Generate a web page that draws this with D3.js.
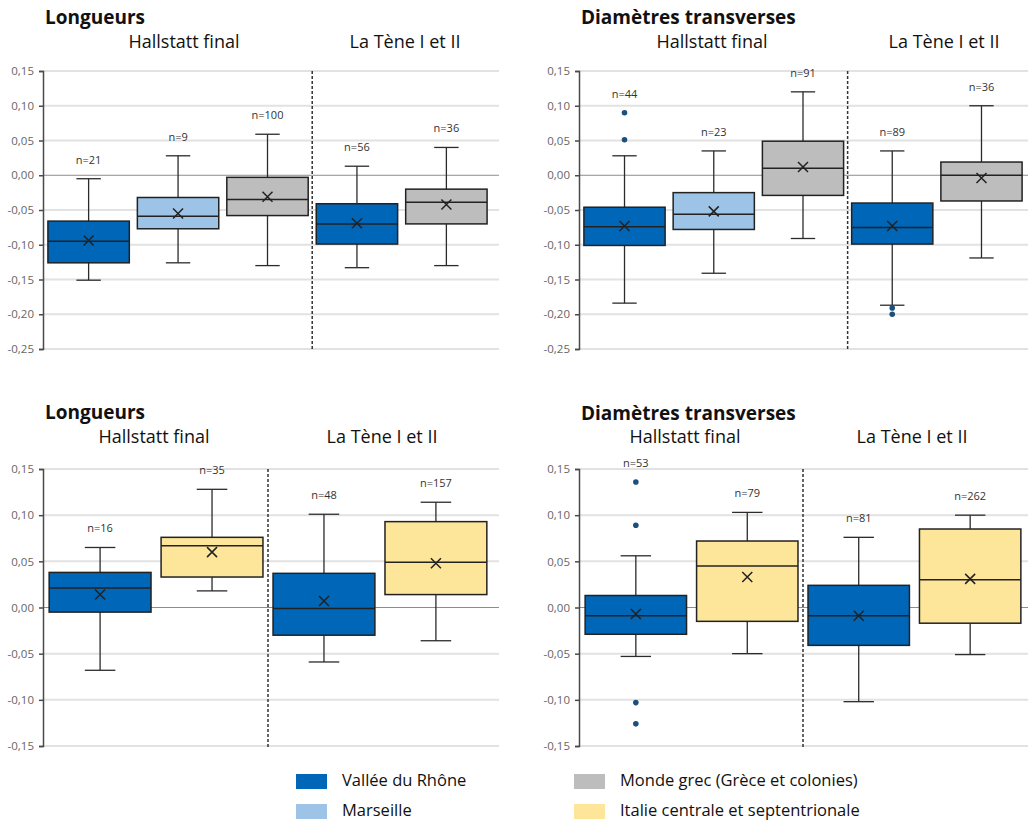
<!DOCTYPE html>
<html>
<head>
<meta charset="utf-8">
<script src="https://cdn.jsdelivr.net/npm/d3@7"></script>
<style>
  body { margin: 0; background: #fff; }
  svg { display: block; font-family: "Open Sans", "Noto Sans", sans-serif; }
</style>
</head>
<body>
<svg id="chart" width="1028" height="823"></svg>
<script>
// regions (legend order) and their fills
const regions = ["Vallée du Rhône", "Marseille", "Monde grec (Grèce et colonies)", "Italie centrale et septentrionale"];
const regionColors = ["#0066b8", "#9dc3e6", "#bdbdbd", "#fde59a"];
const periods = ["Hallstatt final", "La Tène I et II"];

// box stats: [low whisker, Q1, median, Q3, high whisker, mean]
// top left: Longueurs
const longTopRegion = [0, 1, 2, 0, 2];
const longTopPeriod = [0, 0, 0, 1, 1];
const longTopN = [21, 9, 100, 56, 36];
const longTopStats = [
  [-0.151, -0.126, -0.095, -0.066, -0.005, -0.094],
  [-0.126, -0.077, -0.059, -0.032, 0.028, -0.055],
  [-0.130, -0.058, -0.035, -0.003, 0.059, -0.031],
  [-0.133, -0.099, -0.070, -0.041, 0.013, -0.069],
  [-0.130, -0.070, -0.039, -0.020, 0.040, -0.042]
];
const longTopOutliers = [[], [], [], [], []];

// top right: Diamètres transverses
const diamTopRegion = [0, 1, 2, 0, 2];
const diamTopPeriod = [0, 0, 0, 1, 1];
const diamTopN = [44, 23, 91, 89, 36];
const diamTopStats = [
  [-0.184, -0.101, -0.074, -0.046, 0.028, -0.073],
  [-0.141, -0.078, -0.056, -0.025, 0.035, -0.052],
  [-0.091, -0.029, 0.010, 0.049, 0.120, 0.012],
  [-0.187, -0.099, -0.075, -0.040, 0.035, -0.073],
  [-0.119, -0.037, 0.000, 0.019, 0.100, -0.004]
];
const diamTopOutliers = [[0.090, 0.051], [], [], [-0.191, -0.200], []];

// bottom left: Longueurs
const longBotRegion = [0, 3, 0, 3];
const longBotPeriod = [0, 0, 1, 1];
const longBotN = [16, 35, 48, 157];
const longBotStats = [
  [-0.068, -0.005, 0.021, 0.038, 0.065, 0.014],
  [0.018, 0.033, 0.067, 0.076, 0.128, 0.060],
  [-0.059, -0.030, -0.001, 0.037, 0.101, 0.007],
  [-0.036, 0.014, 0.049, 0.093, 0.114, 0.048]
];
const longBotOutliers = [[], [], [], []];

// bottom right: Diamètres transverses
const diamBotRegion = [0, 3, 0, 3];
const diamBotPeriod = [0, 0, 1, 1];
const diamBotN = [53, 79, 81, 262];
const diamBotStats = [
  [-0.053, -0.029, -0.009, 0.013, 0.056, -0.007],
  [-0.050, -0.015, 0.045, 0.072, 0.103, 0.033],
  [-0.102, -0.041, -0.009, 0.024, 0.076, -0.009],
  [-0.051, -0.017, 0.030, 0.085, 0.100, 0.031]
];
const diamBotOutliers = [[0.136, 0.089, -0.103, -0.126], [], [], []];

const topTicks = [0.15, 0.10, 0.05, 0.00, -0.05, -0.10, -0.15, -0.20, -0.25];
const botTicks = [0.15, 0.10, 0.05, 0.00, -0.05, -0.10, -0.15];

const svg = d3.select("#chart");
const fmt = v => d3.format(".2f")(v).replace(".", ",").replace("−", "-");

const panels = [
  {title: "Longueurs", region: longTopRegion, period: longTopPeriod, n: longTopN, stats: longTopStats, out: longTopOutliers,
   ticks: topTicks, axisX: 43, right: 499, y0: 71, y1: 349, band: [43, 492], titleY: 24, subY: 48, subX: [184, 405]},
  {title: "Diamètres transverses", region: diamTopRegion, period: diamTopPeriod, n: diamTopN, stats: diamTopStats, out: diamTopOutliers,
   ticks: topTicks, axisX: 579, right: 1028, y0: 71, y1: 349, band: [579, 1027], titleY: 24, subY: 48, subX: [712, 944]},
  {title: "Longueurs", region: longBotRegion, period: longBotPeriod, n: longBotN, stats: longBotStats, out: longBotOutliers,
   ticks: botTicks, axisX: 43, right: 499, y0: 469, y1: 746, band: [43, 493], titleY: 419, subY: 443, subX: [154, 382]},
  {title: "Diamètres transverses", region: diamBotRegion, period: diamBotPeriod, n: diamBotN, stats: diamBotStats, out: diamBotOutliers,
   ticks: botTicks, axisX: 579, right: 1028, y0: 469, y1: 746, band: [579, 1027], titleY: 420, subY: 443, subX: [685, 912]}
];

panels.forEach(p => drawPanel(p));

function drawPanel(p) {
  const g = svg.append("g");
  const y = d3.scaleLinear()
    .domain([d3.min(p.ticks), d3.max(p.ticks)])
    .range([p.y1, p.y0]);
  const x = d3.scaleBand()
    .domain(d3.range(p.stats.length))
    .range(p.band)
    .paddingInner(0.09)
    .paddingOuter(0.055);
  const bw = x.bandwidth();

  // gridlines
  g.append("g")
    .selectAll("line")
    .data(p.ticks.filter(t => Math.abs(t) > 1e-9))
    .join("line")
    .attr("x1", p.axisX).attr("x2", p.right)
    .attr("y1", d => y(d)).attr("y2", d => y(d))
    .attr("stroke", "#e2e2e2")
    .attr("stroke-width", 2);

  // zero line
  g.append("line")
    .attr("x1", p.axisX).attr("x2", p.right)
    .attr("y1", y(0)).attr("y2", y(0))
    .attr("stroke", "#8c8c8c")
    .attr("stroke-width", 1);

  // y axis
  const axis = g.append("g")
    .attr("transform", `translate(${p.axisX},0)`)
    .call(d3.axisLeft(y).tickValues(p.ticks).tickFormat(fmt).tickSize(4).tickPadding(5));
  axis.select(".domain").attr("stroke", "#4a4a4a").attr("stroke-width", 1.5);
  axis.selectAll(".tick line").attr("stroke", "#4a4a4a").attr("stroke-width", 1.5);
  axis.selectAll(".tick text")
    .attr("fill", "#666")
    .attr("font-size", 11.5)
    .attr("font-family", "'Open Sans', sans-serif");

  // divider between periods
  const lastH = d3.max(d3.range(p.period.length).filter(i => p.period[i] === 0));
  const divX = (x(lastH) + bw + x(lastH + 1)) / 2;
  g.append("line")
    .attr("x1", divX).attr("x2", divX)
    .attr("y1", p.y0).attr("y2", p.y1 + 2)
    .attr("stroke", "#333")
    .attr("stroke-width", 1.5)
    .attr("stroke-dasharray", "3,2");

  // boxes
  const boxes = g.append("g")
    .selectAll("g")
    .data(p.stats.map((s, i) => ({s, i, region: p.region[i], n: p.n[i], out: p.out[i]})))
    .join("g")
    .attr("transform", d => `translate(${x(d.i)},0)`);

  const cx = bw / 2;
  const cap = bw * 0.15;

  // whiskers
  boxes.append("line")
    .attr("x1", cx).attr("x2", cx)
    .attr("y1", d => y(d.s[0])).attr("y2", d => y(d.s[4]))
    .attr("stroke", "#2b2b2b").attr("stroke-width", 1.3);
  boxes.append("line")
    .attr("x1", cx - cap).attr("x2", cx + cap)
    .attr("y1", d => y(d.s[0])).attr("y2", d => y(d.s[0]))
    .attr("stroke", "#2b2b2b").attr("stroke-width", 1.3);
  boxes.append("line")
    .attr("x1", cx - cap).attr("x2", cx + cap)
    .attr("y1", d => y(d.s[4])).attr("y2", d => y(d.s[4]))
    .attr("stroke", "#2b2b2b").attr("stroke-width", 1.3);

  // box
  boxes.append("rect")
    .attr("x", 0)
    .attr("width", bw)
    .attr("y", d => y(d.s[3]))
    .attr("height", d => y(d.s[1]) - y(d.s[3]))
    .attr("fill", d => regionColors[d.region])
    .attr("stroke", "#222")
    .attr("stroke-width", 1.5);

  // median
  boxes.append("line")
    .attr("x1", 0).attr("x2", bw)
    .attr("y1", d => y(d.s[2])).attr("y2", d => y(d.s[2]))
    .attr("stroke", "#222").attr("stroke-width", 1.5);

  // mean (x marker)
  const m = 5;
  boxes.append("path")
    .attr("d", d => {
      const my = y(d.s[5]);
      return `M${cx - m},${my - m}L${cx + m},${my + m}M${cx - m},${my + m}L${cx + m},${my - m}`;
    })
    .attr("stroke", "#222").attr("stroke-width", 1.5).attr("fill", "none");

  // outliers
  boxes.selectAll("circle")
    .data(d => d.out)
    .join("circle")
    .attr("cx", cx)
    .attr("cy", d => y(d))
    .attr("r", 2.8)
    .attr("fill", "#1d4f7c");

  // n labels
  boxes.append("text")
    .attr("x", cx)
    .attr("y", d => y(d3.max([d.s[4], ...d.out])) - 18)
    .attr("text-anchor", "middle")
    .attr("dominant-baseline", "middle")
    .attr("font-size", 11)
    .attr("fill", "#333")
    .text(d => "n=" + d.n);

  // titles
  svg.append("text")
    .attr("x", p.axisX + 2)
    .attr("y", p.titleY)
    .attr("font-size", 19)
    .attr("font-weight", "bold")
    .attr("fill", "#111")
    .text(p.title);

  svg.append("g")
    .selectAll("text")
    .data(periods)
    .join("text")
    .attr("x", (d, i) => p.subX[i])
    .attr("y", p.subY)
    .attr("text-anchor", "middle")
    .attr("font-size", 18)
    .attr("fill", "#111")
    .text(d => d);
}

// legend
const legendPos = [[296, 774], [296, 804], [574, 774], [574, 804]];
const legend = svg.append("g")
  .selectAll("g")
  .data(regions)
  .join("g")
  .attr("transform", (d, i) => `translate(${legendPos[i][0]},${legendPos[i][1]})`);

legend.append("rect")
  .attr("width", 31)
  .attr("height", 15)
  .attr("fill", (d, i) => regionColors[i]);

legend.append("text")
  .attr("x", 46)
  .attr("y", 8)
  .attr("dominant-baseline", "middle")
  .attr("font-size", 16.5)
  .attr("fill", "#111")
  .text(d => d);
</script>
</body>
</html>
